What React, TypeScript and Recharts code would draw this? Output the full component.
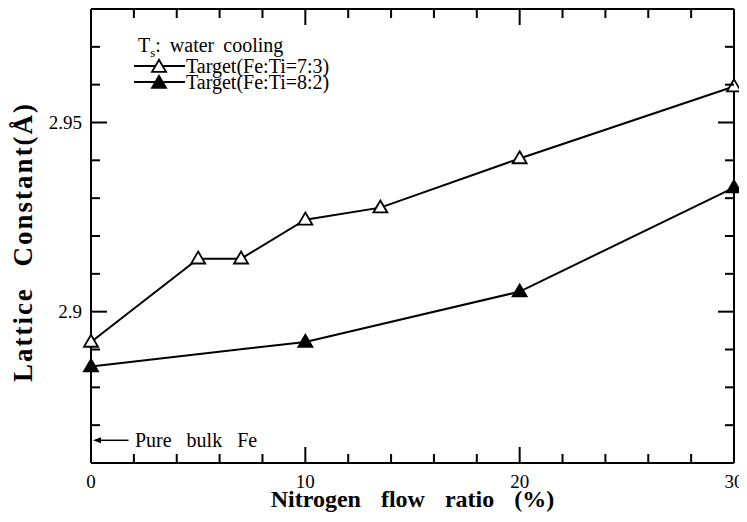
import {
  LineChart,
  Line,
  XAxis,
  YAxis,
  ReferenceLine,
  ReferenceDot,
} from "recharts";

// nitrogen flow ratio (%) and lattice constant (Å) for each target
const ratio73 = [0, 5, 7, 10, 13.5, 20, 30];
const lattice73 = [2.892, 2.914, 2.914, 2.9243, 2.9275, 2.9405, 2.9595];
const ratio82 = [0, 10, 20, 30];
const lattice82 = [2.8855, 2.892, 2.9053, 2.9328];

const xTicks = [0, 2, 4, 6, 8, 10, 12, 14, 16, 18, 20, 22, 24, 26, 28, 30];
const xMajor = [0, 10, 20, 30];
const yTicks = [2.87, 2.88, 2.89, 2.9, 2.91, 2.92, 2.93, 2.94, 2.95, 2.96, 2.97];
const yMajor = [2.9, 2.95];
const bulkFe = 2.866;

const X_MIN = 0;
const X_MAX = 30;
const Y_MIN = 2.86;
const Y_MAX = 2.98;

const series73 = ratio73.map((x, i) => ({ x, y: lattice73[i] }));
const series82 = ratio82.map((x, i) => ({ x, y: lattice82[i] }));

const isMajor = (v: number, list: number[]) => list.some((m) => Math.abs(m - v) < 1e-6);

// chart layout
const CHART_W = 747;
const CHART_H = 522;
const MARGIN = { top: 9, right: 13, left: 0, bottom: 0 };
const X_AXIS_H = 59;
const Y_AXIS_W = 91;
const PLOT_W = CHART_W - MARGIN.left - MARGIN.right - Y_AXIS_W;
const PLOT_H = CHART_H - MARGIN.top - MARGIN.bottom - X_AXIS_H;

const FONT = "'Liberation Serif', 'Times New Roman', serif";
const MAJOR = 16;
const MINOR = 9;

function Triangle({ cx, cy, filled }: { cx?: number; cy?: number; filled: boolean }) {
  if (cx == null || cy == null) return null;
  const w = 7;
  const h = 12;
  return (
    <path
      d={`M${cx},${cy - h * 0.6} L${cx + w},${cy + h * 0.4} L${cx - w},${cy + h * 0.4} Z`}
      fill={filled ? "#000" : "#fff"}
      stroke="#000"
      strokeWidth={1.8}
    />
  );
}

const tickText = { fontFamily: FONT, fontSize: 19, fill: "#000" };

// bottom tick plus its mirror on the top edge, both pointing inward
function BottomTick(props: any) {
  const { x, y, payload } = props;
  const len = isMajor(payload.value, xMajor) ? MAJOR : MINOR;
  const top = y - PLOT_H;
  return (
    <g>
      <line x1={x} y1={y} x2={x} y2={y - len} stroke="#000" strokeWidth={2} />
      <path d={`M${x},${top} V${top + len}`} stroke="#000" strokeWidth={2} fill="none" />
      {len === MAJOR && (
        <text x={x} y={y + 25} textAnchor="middle" style={tickText}>
          {payload.value}
        </text>
      )}
    </g>
  );
}

// left tick plus its mirror on the right edge
function LeftTick(props: any) {
  const { x, y, payload } = props;
  const len = isMajor(payload.value, yMajor) ? MAJOR : MINOR;
  const right = x + PLOT_W;
  return (
    <g>
      <line x1={x} y1={y} x2={x + len} y2={y} stroke="#000" strokeWidth={2} />
      <path d={`M${right},${y} H${right - len}`} stroke="#000" strokeWidth={2} fill="none" />
      {len === MAJOR && (
        <text x={x - 9} y={y + 6} textAnchor="end" style={tickText}>
          {payload.value}
        </text>
      )}
    </g>
  );
}

function XTitle(props: any) {
  const { x, y, width, height } = props.viewBox;
  return (
    <text
      x={x + width / 2}
      y={y + height - 15}
      textAnchor="middle"
      style={{ fontFamily: FONT, fontSize: 24, fontWeight: "bold", fill: "#000", wordSpacing: 14 }}
    >
      Nitrogen flow ratio (%)
    </text>
  );
}

function YTitle(props: any) {
  const { x, y, height } = props.viewBox;
  const cx = x + 32;
  const cy = y + height / 2 + 6;
  return (
    <text
      x={cx}
      y={cy}
      textAnchor="middle"
      transform={`rotate(-90 ${cx} ${cy})`}
      style={{
        fontFamily: FONT,
        fontSize: 27,
        fontWeight: "bold",
        fill: "#000",
        letterSpacing: 2,
        wordSpacing: 12,
      }}
    >
      Lattice Constant(Å)
    </text>
  );
}

function LegendBox() {
  const row = (filled: boolean, label: string) => (
    <div style={{ display: "flex", alignItems: "center", height: 16 }}>
      <svg width={51} height={16} style={{ display: "block" }}>
        <line x1={0} y1={8} x2={51} y2={8} stroke="#000" strokeWidth={2} />
        <Triangle cx={25} cy={9} filled={filled} />
      </svg>
      <span style={{ marginLeft: 1 }}>{label}</span>
    </div>
  );
  return (
    <div
      style={{
        position: "absolute",
        top: 37,
        left: 134,
        fontFamily: FONT,
        fontSize: 20,
        color: "#000",
        lineHeight: "17px",
      }}
    >
      <div style={{ marginLeft: 4, height: 17, marginBottom: 4, wordSpacing: 4 }}>
        T<sub style={{ fontSize: 13, lineHeight: 0 }}>s</sub>: water cooling
      </div>
      {row(false, "Target(Fe:Ti=7:3)")}
      {row(true, "Target(Fe:Ti=8:2)")}
    </div>
  );
}

function ArrowHead({ cx, cy }: { cx?: number; cy?: number }) {
  if (cx == null || cy == null) return null;
  return <path d={`M${cx + 2},${cy} L${cx + 10},${cy - 3} L${cx + 10},${cy + 3} Z`} fill="#000" />;
}

function BulkLabel({ cx, cy }: { cx?: number; cy?: number }) {
  if (cx == null || cy == null) return null;
  return (
    <text x={cx} y={cy + 7} style={{ ...tickText, fontSize: 20, wordSpacing: 10 }}>
      Pure bulk Fe
    </text>
  );
}

export default function App() {
  return (
    <div style={{ position: "relative", width: CHART_W, height: CHART_H, margin: -8, background: "#fff" }}>
      <LineChart width={CHART_W} height={CHART_H} margin={MARGIN}>
        <XAxis
          type="number"
          dataKey="x"
          domain={[X_MIN, X_MAX]}
          ticks={xTicks}
          interval={0}
          height={X_AXIS_H}
          tickSize={0}
          tickMargin={0}
          tickLine={false}
          tick={<BottomTick />}
          axisLine={{ stroke: "#000", strokeWidth: 2 }}
          label={<XTitle />}
        />
        <YAxis
          type="number"
          domain={[Y_MIN, Y_MAX]}
          ticks={yTicks}
          interval={0}
          width={Y_AXIS_W}
          tickSize={0}
          tickMargin={0}
          tickLine={false}
          tick={<LeftTick />}
          axisLine={{ stroke: "#000", strokeWidth: 2 }}
          label={<YTitle />}
        />

        {/* top and right frame edges */}
        <ReferenceLine y={Y_MAX} stroke="#000" strokeWidth={2} ifOverflow="visible" />
        <ReferenceLine x={X_MAX} stroke="#000" strokeWidth={2} ifOverflow="visible" />

        <Line
          data={series73}
          dataKey="y"
          type="linear"
          stroke="#000"
          strokeWidth={2}
          dot={(p: any) => <Triangle key={`a${p.index}`} cx={p.cx} cy={p.cy} filled={false} />}
          activeDot={false}
          isAnimationActive={false}
        />
        <Line
          data={series82}
          dataKey="y"
          type="linear"
          stroke="#000"
          strokeWidth={2}
          dot={(p: any) => <Triangle key={`b${p.index}`} cx={p.cx} cy={p.cy} filled />}
          activeDot={false}
          isAnimationActive={false}
        />
        <ReferenceLine
          segment={[
            { x: 0.4, y: bulkFe },
            { x: 1.75, y: bulkFe },
          ]}
          stroke="#000"
          strokeWidth={1.5}
        />
        <ReferenceDot x={0} y={bulkFe} shape={<ArrowHead />} />
        <ReferenceDot x={2.05} y={bulkFe} shape={<BulkLabel />} />
      </LineChart>
      <LegendBox />
    </div>
  );
}
